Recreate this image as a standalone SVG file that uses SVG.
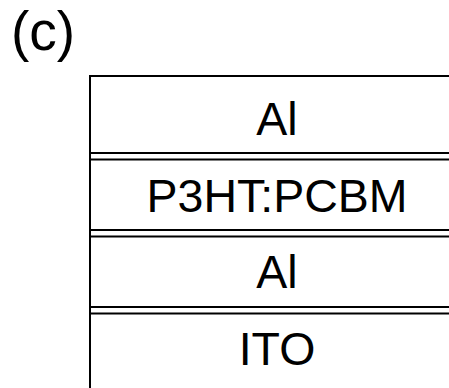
<svg xmlns="http://www.w3.org/2000/svg" width="449" height="388" viewBox="0 0 449 388">
  <style>
    .ln { stroke: #000; stroke-width: 2; fill: none; }
    .lbl { font-family: "Liberation Sans", Arial, sans-serif; font-size: 46.5px; fill: #000; text-anchor: middle; }
    .tag { font-family: "Liberation Sans", Arial, sans-serif; font-size: 55px; fill: #000; }
  </style>
  <rect width="449" height="388" fill="#fff"/>
  <text class="tag" x="11" y="50">(c)</text>
  <!-- layer stack outline -->
  <g id="stack-frame">
    <path class="ln" d="M90 388 V76 H449"/>
  </g>
  <g id="layer-al-top">
    <text class="lbl" x="277" y="135">Al</text>
    <path class="ln" d="M90 153 H449"/>
  </g>
  <g id="layer-p3ht-pcbm">
    <path class="ln" d="M90 159.5 H449"/>
    <text class="lbl" x="277" y="211.5">P3HT:PCBM</text>
    <path class="ln" d="M90 230 H449"/>
  </g>
  <g id="layer-al-bottom">
    <path class="ln" d="M90 236.5 H449"/>
    <text class="lbl" x="277" y="288">Al</text>
    <path class="ln" d="M90 307 H449"/>
  </g>
  <g id="layer-ito">
    <path class="ln" d="M90 313.5 H449"/>
    <text class="lbl" x="277" y="365">ITO</text>
  </g>
</svg>
